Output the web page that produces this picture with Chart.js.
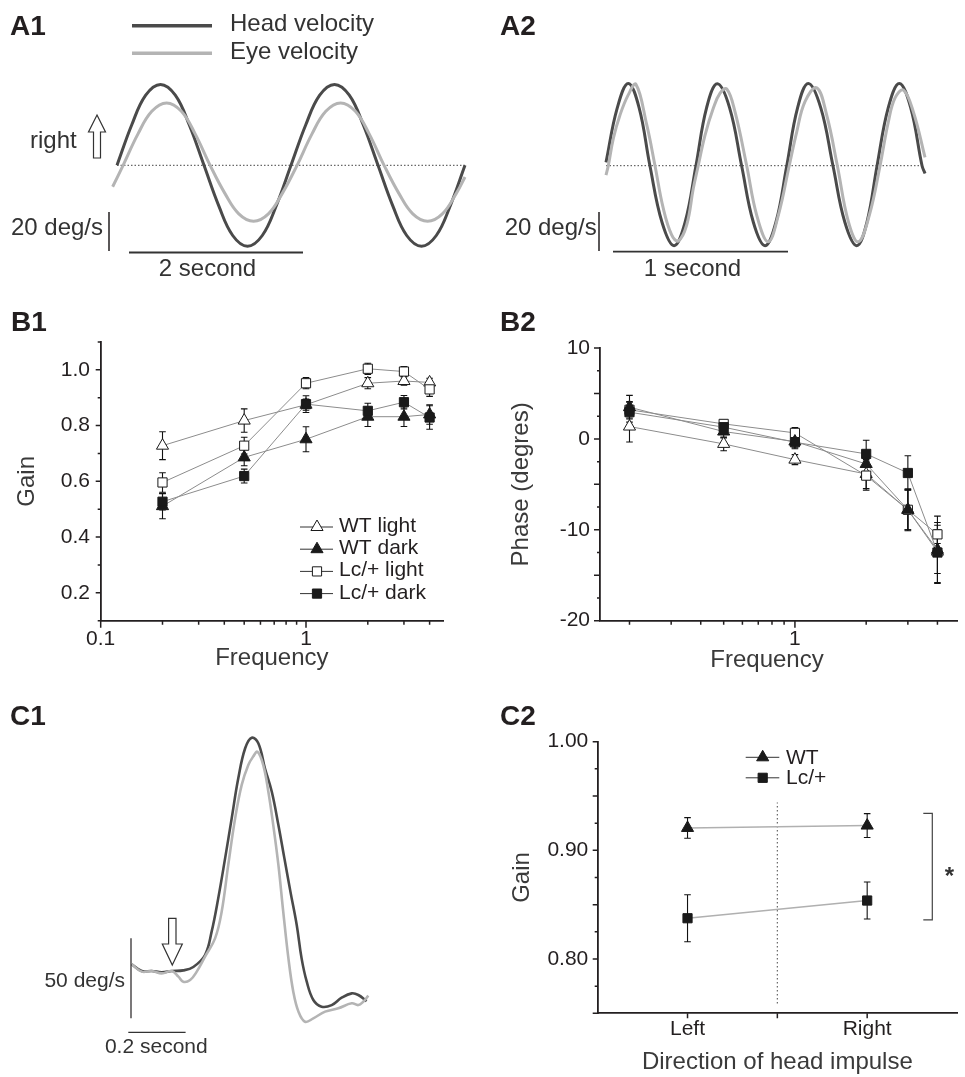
<!DOCTYPE html>
<html lang="en">
<head>
<meta charset="utf-8">
<title>VOR responses</title>
<script src="https://cdn.jsdelivr.net/npm/chart.js@4.4.1/dist/chart.umd.min.js"></script>
<style>
  html, body { margin: 0; padding: 0; background: #fff; }
  #figure { position: relative; width: 965px; height: 1077px; overflow: hidden; }
  #figure canvas { position: absolute; }
</style>
</head>
<body>
<div id="figure">
  <canvas id="panelA1"></canvas>
  <canvas id="panelA2"></canvas>
  <canvas id="panelB1"></canvas>
  <canvas id="panelB2"></canvas>
  <canvas id="panelC1"></canvas>
  <canvas id="panelC2"></canvas>
</div>
<script>
/* ==========================================
   VOR figure - velocity traces, gain/phase, head impulse
   ========================================== */

// ===== A1: 0.5 Hz rotation, velocity (deg/s) vs time (s) =====
const a1HeadTime = [0, 0.17, 0.33, 0.5, 0.67, 0.83, 1, 1.17, 1.33, 1.5, 1.67, 1.83, 2, 2.17, 2.33, 2.5, 2.67, 2.83, 3, 3.17, 3.33, 3.5, 3.67, 3.83, 4];
const a1HeadVel = [0, 20.8, 36, 41.5, 36, 20.8, 0, -20.8, -36, -41.5, -36, -20.8, 0, 20.8, 36, 41.5, 36, 20.8, 0, -20.8, -36, -41.5, -36, -20.8, 0];
const a1EyeTime = [-0.05, 0.07, 0.24, 0.4, 0.57, 0.74, 0.9, 1.07, 1.24, 1.4, 1.57, 1.74, 1.9, 2.07, 2.24, 2.4, 2.57, 2.74, 2.9, 3.07, 3.24, 3.4, 3.57, 3.74, 3.9, 4];
const a1EyeVel = [-11, 0, 16, 27.7, 32, 27.7, 16, 0, -14.4, -24.9, -28.7, -24.9, -14.4, 0, 16, 27.7, 32, 27.7, 16, 0, -14.4, -24.9, -28.7, -24.9, -14.4, -6];
const a1ZeroSpan = [0, 4];

// ===== A2: 2 Hz rotation =====
const a2HeadTime = [0, 0.064, 0.127, 0.189, 0.251, 0.32, 0.389, 0.452, 0.514, 0.575, 0.636, 0.706, 0.775, 0.842, 0.909, 0.971, 1.033, 1.095, 1.156, 1.227, 1.297, 1.365, 1.433, 1.491, 1.549, 1.613, 1.676, 1.741, 1.806, 1.823];
const a2HeadVel = [1.7, 29.5, 42.2, 29.8, 0, -29, -41, -29, 0, 29.8, 42, 29.8, 0, -29, -41, -29, 0, 29.8, 42.2, 29.8, 0, -29, -41, -29, 0, 29.8, 42.2, 29.8, 0, -4];
const a2EyeTime = [0, 0.013, 0.042, 0.08, 0.127, 0.171, 0.233, 0.28, 0.327, 0.375, 0.413, 0.461, 0.499, 0.527, 0.566, 0.613, 0.651, 0.69, 0.737, 0.804, 0.861, 0.927, 0.985, 1.047, 1.09, 1.137, 1.204, 1.261, 1.322, 1.385, 1.442, 1.505, 1.566, 1.613, 1.651, 1.699, 1.756, 1.823];
const a2EyeVel = [-4.8, 0, 14, 26, 36.3, 41.7, 20.9, 0, -21.8, -35.5, -38.6, -30.4, -11.6, 0, 15.7, 29.4, 37.1, 39.3, 27.7, 0, -25.3, -39, -25.3, 0, 17.4, 32.8, 40, 26, 0, -28.7, -39, -25.3, 0, 22.3, 34.6, 38.8, 27.7, 4.3];
const a2ZeroSpan = [0, 1.81];

// ===== B: frequency response (Hz) =====
const frequencies = [0.2, 0.5, 1, 2, 3, 4];
const gainWtLight = [0.728, 0.818, 0.875, 0.952, 0.96, 0.955];
const gainWtLightSem = [0.05, 0.042, 0.02, 0.02, 0.015, 0.015];
const gainWtDark = [0.511, 0.686, 0.751, 0.832, 0.832, 0.84];
const gainWtDarkSem = [0.045, 0.03, 0.045, 0.035, 0.035, 0.035];
const gainLcLight = [0.596, 0.728, 0.952, 1.004, 0.994, 0.93];
const gainLcLightSem = [0.035, 0.03, 0.02, 0.02, 0.018, 0.025];
const gainLcDark = [0.527, 0.619, 0.877, 0.853, 0.884, 0.829];
const gainLcDarkSem = [0.03, 0.025, 0.03, 0.027, 0.024, 0.042];

const phaseWtLight = [1.36, -0.55, -2.28, -3.86, -7.8, -12.4];
const phaseWtLightSem = [1.7, 0.75, 0.55, 1.6, 2.2, 2.4];
const phaseWtDark = [3.49, 0.81, -0.29, -2.76, -7.8, -12.2];
const phaseWtDarkSem = [1.3, 0.7, 0.8, 1.0, 2.3, 3.7];
const phaseLcLight = [3.2, 1.65, 0.66, -4.04, -7.8, -10.5];
const phaseLcLightSem = [0.9, 0.4, 0.6, 1.6, 2.2, 1.0];
const phaseLcDark = [2.94, 1.29, -0.37, -1.65, -3.75, -12.5];
const phaseLcDarkSem = [1.1, 0.6, 0.6, 1.5, 1.9, 3.3];

const freqTicks = [0.1, 0.2, 0.3, 0.4, 0.5, 0.6, 0.7, 0.8, 0.9, 1, 2, 3, 4];
const freqTickLabels = [0.1, 1];
const gainTicks = [0.1, 0.2, 0.3, 0.4, 0.5, 0.6, 0.7, 0.8, 0.9, 1.0, 1.1];
const gainTickLabels = [0.2, 0.4, 0.6, 0.8, 1.0];
const phaseTicks = [-20, -17.5, -15, -12.5, -10, -7.5, -5, -2.5, 0, 2.5, 5, 7.5, 10];
const phaseTickLabels = [-20, -10, 0, 10];

// ===== C1: single head impulse, velocity (deg/s) vs time (s) =====
const c1HeadTime = [0, 0.035, 0.07, 0.105, 0.14, 0.18, 0.215, 0.256, 0.279, 0.302, 0.326, 0.349, 0.372, 0.396, 0.419, 0.442, 0.465, 0.489, 0.512, 0.533, 0.554, 0.576, 0.593, 0.611, 0.634, 0.663, 0.698, 0.733, 0.768, 0.791, 0.82];
const c1HeadVel = [4.2, 0, 0, -0.8, 0, 0.4, 2.5, 10, 24.6, 45.4, 70.4, 95.4, 120.4, 139.2, 145.8, 142.3, 126.7, 112, 91.3, 70.4, 49.6, 28.8, 7.9, -6.7, -18.1, -22.3, -21.3, -16.7, -14, -15, -18.8];
const c1EyeTime = [0, 0.035, 0.07, 0.105, 0.14, 0.163, 0.18, 0.204, 0.227, 0.256, 0.291, 0.314, 0.337, 0.361, 0.384, 0.407, 0.424, 0.439, 0.459, 0.477, 0.494, 0.512, 0.529, 0.547, 0.564, 0.582, 0.605, 0.634, 0.675, 0.721, 0.768, 0.791, 0.808, 0.826];
const c1EyeVel = [4.2, -0.4, 0, -1.5, 0, -3.5, -6.7, -5.6, -0.4, 9, 20.4, 37, 66.3, 95.4, 116.3, 128.8, 134, 137, 128.8, 112, 91.3, 66.3, 37, 7.9, -12.9, -25.4, -31.7, -29.6, -25.4, -23.3, -20.2, -21.3, -19.2, -15.4];

// ===== C2: head impulse gain by direction =====
const directions = ['Left', 'Right'];
const impulseGainWt = [0.9206, 0.9228];
const impulseSemWt = [0.0095, 0.011];
const impulseGainLc = [0.8375, 0.8538];
const impulseSemLc = [0.0216, 0.017];
const dividerSpan = [0.759, 0.944];
const significanceSpan = [0.836, 0.934];
const impulseTicks = [0.75, 0.775, 0.8, 0.825, 0.85, 0.875, 0.9, 0.925, 0.95, 0.975, 1.0];
const impulseTickLabels = [0.8, 0.9, 1.0];
const directionTicks = [1, 1.5, 2];

// ===== STYLE =====
const FONT = '"Liberation Sans", Arial, Helvetica, sans-serif';
const INK = '#231f20';
const TITLE_INK = '#3a3a3a';
const HEAD_COLOR = '#4a4a4a';
const EYE_COLOR = '#b4b4b4';
const LINK_COLOR = '#8c8c8c';
const SOLID = '#1a1a1a';
const LABEL_SIZE = 24;   // axis titles and annotations
const TICK_SIZE = 21;    // tick labels and legends

Chart.defaults.font.family = FONT;
Chart.defaults.color = INK;
Chart.defaults.animation = false;
Chart.defaults.events = [];
Chart.defaults.plugins.legend.display = false;
Chart.defaults.plugins.tooltip.enabled = false;

// ===== HELPERS =====
const pts = (xs, ys) => xs.map((v, i) => ({ x: v, y: ys[i] }));
const near = (list, v) => list.some(t => Math.abs(t - v) < 1e-6);

function mount(id, box) {
    const c = document.getElementById(id);
    c.style.left = box[0] + 'px';
    c.style.top = box[1] + 'px';
    c.width = box[2] - box[0];
    c.height = box[3] - box[1];
    return c;
}

// value range between two pixel edges, given the pixel of value 0 and pixels per unit
function linRange(p0, p1, zeroPx, ppu, flip) {
    return flip ? { min: (zeroPx - p1) / ppu, max: (zeroPx - p0) / ppu }
                : { min: (p0 - zeroPx) / ppu, max: (p1 - zeroPx) / ppu };
}
function logRange(p0, p1, onePx, pxPerDecade) {
    return { min: Math.pow(10, (p0 - onePx) / pxPerDecade), max: Math.pow(10, (p1 - onePx) / pxPerDecade) };
}

function text(ctx, s, x, y, size, o = {}) {
    ctx.save();
    ctx.font = (o.bold ? 'bold ' : '') + size + 'px ' + FONT;
    ctx.fillStyle = o.color || INK;
    ctx.textAlign = o.align || 'left';
    ctx.textBaseline = 'alphabetic';
    ctx.fillText(s, x, y);
    ctx.restore();
}

function line(ctx, x0, y0, x1, y1, color, width, dash) {
    ctx.save();
    ctx.strokeStyle = color;
    ctx.lineWidth = width;
    ctx.setLineDash(dash || []);
    ctx.beginPath();
    ctx.moveTo(x0, y0);
    ctx.lineTo(x1, y1);
    ctx.stroke();
    ctx.restore();
}

function hollowArrow(ctx, cx, tipY, tailY, headLen, headHalf, shaftHalf) {
    const d = Math.sign(tailY - tipY);
    const hb = tipY + d * headLen;
    ctx.save();
    ctx.beginPath();
    ctx.moveTo(cx, tipY);
    ctx.lineTo(cx + headHalf, hb);
    ctx.lineTo(cx + shaftHalf, hb);
    ctx.lineTo(cx + shaftHalf, tailY);
    ctx.lineTo(cx - shaftHalf, tailY);
    ctx.lineTo(cx - shaftHalf, hb);
    ctx.lineTo(cx - headHalf, hb);
    ctx.closePath();
    ctx.fillStyle = '#fff';
    ctx.fill();
    ctx.strokeStyle = '#333';
    ctx.lineWidth = 1.2;
    ctx.stroke();
    ctx.restore();
}

// draws in page coordinates, with the chart's scales converted to page pixels
function decor(box, draw) {
    return {
        id: 'decor',
        afterDraw(chart) {
            const { ctx, scales: { x, y } } = chart;
            const s = {
                X: v => x.getPixelForValue(v) + box[0],
                Y: v => y.getPixelForValue(v) + box[1],
                VX: p => x.getValueForPixel(p - box[0]),
                VY: p => y.getValueForPixel(p - box[1]),
                chart
            };
            ctx.save();
            ctx.translate(-box[0], -box[1]);
            draw(ctx, s);
            ctx.restore();
        }
    };
}

// calibration bars: length comes from the scale
function vBar(ctx, s, x, yBottom, amount, width) {
    line(ctx, x, yBottom, x, s.Y(s.VY(yBottom) + amount), INK, width);
}
function hBar(ctx, s, xLeft, y, amount, width) {
    line(ctx, xLeft, y, s.X(s.VX(xLeft) + amount), y, '#333', width);
}

// ===== TRACE PANELS =====
function trace(label, xs, ys, color, width) {
    return { label, data: pts(xs, ys), borderColor: color, borderWidth: width, tension: 0.4, pointRadius: 0, fill: false };
}
function zeroLine(span) {
    return { data: span.map(t => ({ x: t, y: 0 })), borderColor: '#444', borderWidth: 1, borderDash: [1.5, 2], pointRadius: 0 };
}

function traceChart(id, box, area, xZero, xPpu, yZero, yPpu, datasets, draw) {
    return new Chart(mount(id, box), {
        type: 'line',
        data: { datasets },
        options: {
            responsive: false,
            layout: { padding: { left: area[0] - box[0], top: area[1] - box[1], right: box[2] - area[2], bottom: box[3] - area[3] } },
            scales: {
                x: { type: 'linear', display: false, bounds: 'data', ...linRange(area[0], area[2], xZero, xPpu, false) },
                y: { type: 'linear', display: false, bounds: 'data', ...linRange(area[1], area[3], yZero, yPpu, true) }
            }
        },
        plugins: [decor(box, draw)]
    });
}

function traceLegend(ctx, s) {
    const rows = [25.7, 53.3];
    s.chart.data.datasets.filter(d => d.label).reverse().forEach((d, i) => {
        line(ctx, 132, rows[i], 212, rows[i], d.borderColor, 3.5);
        text(ctx, d.label, 230, rows[i] + 5.3, LABEL_SIZE, { color: '#333' });
    });
}

// A1
const A1_BOX = [0, 0, 482, 290];
traceChart('panelA1', A1_BOX, [106, 60, 472, 272], 117, 87, 165.3, 1.95, [
    trace('Eye velocity', a1EyeTime, a1EyeVel, EYE_COLOR, 3),
    trace('Head velocity', a1HeadTime, a1HeadVel, HEAD_COLOR, 3),
    zeroLine(a1ZeroSpan)
], (ctx, s) => {
    text(ctx, 'A1', 10, 35, 28, { bold: true });
    traceLegend(ctx, s);
    text(ctx, 'right', 30, 147.7, LABEL_SIZE, { color: '#333' });
    hollowArrow(ctx, 97, 115, 158, 17, 8.5, 3.5);
    text(ctx, '20 deg/s', 103, 235, LABEL_SIZE, { align: 'right', color: '#333' });
    vBar(ctx, s, 109, 251, 20, 1.5);
    hBar(ctx, s, 129, 252.5, 2, 1.8);
    text(ctx, '2 second', 207.5, 276, LABEL_SIZE, { align: 'center', color: '#333' });
});

// A2
const A2_BOX = [482, 0, 965, 290];
traceChart('panelA2', A2_BOX, [596, 60, 935, 272], 606, 175, 165.7, 1.95, [
    trace('Eye velocity', a2EyeTime, a2EyeVel, EYE_COLOR, 3),
    trace('Head velocity', a2HeadTime, a2HeadVel, HEAD_COLOR, 3),
    zeroLine(a2ZeroSpan)
], (ctx, s) => {
    text(ctx, 'A2', 500, 35, 28, { bold: true });
    text(ctx, '20 deg/s', 596.7, 235, LABEL_SIZE, { align: 'right', color: '#333' });
    vBar(ctx, s, 599, 251, 20, 1.5);
    hBar(ctx, s, 613, 251.7, 1, 1.8);
    text(ctx, '1 second', 692.5, 276, LABEL_SIZE, { align: 'center', color: '#333' });
});

// C1
const C1_BOX = [0, 690, 482, 1077];
traceChart('panelC1', C1_BOX, [122, 725, 385, 1045], 131.7, 286.5, 971, 1.6, [
    trace('Eye velocity', c1EyeTime, c1EyeVel, EYE_COLOR, 2.6),
    trace('Head velocity', c1HeadTime, c1HeadVel, HEAD_COLOR, 2.6)
], (ctx, s) => {
    text(ctx, 'C1', 10, 725, 28, { bold: true });
    text(ctx, '50 deg/s', 125, 986.7, TICK_SIZE, { align: 'right', color: '#333' });
    vBar(ctx, s, 131, 1018.3, 50, 1.2);
    hBar(ctx, s, 128.3, 1032.3, 0.2, 1.2);
    text(ctx, '0.2 second', 156.3, 1053.3, TICK_SIZE, { align: 'center', color: '#333' });
    hollowArrow(ctx, 172.3, 965, 918.3, 21, 10, 3.7);
});

// ===== STATISTICS PANELS =====
const errorBars = {
    id: 'errorBars',
    beforeDatasetsDraw(chart) {
        const { ctx, scales: { x, y } } = chart;
        ctx.save();
        ctx.strokeStyle = '#111';
        ctx.lineWidth = 1.1;
        chart.data.datasets.forEach(ds => {
            if (!ds.sem) return;
            ds.data.forEach((p, i) => {
                const px = x.getPixelForValue(p.x);
                const top = y.getPixelForValue(p.y + ds.sem[i]);
                const bot = y.getPixelForValue(p.y - ds.sem[i]);
                ctx.beginPath();
                ctx.moveTo(px, top); ctx.lineTo(px, bot);
                ctx.moveTo(px - 3.3, top); ctx.lineTo(px + 3.3, top);
                ctx.moveTo(px - 3.3, bot); ctx.lineTo(px + 3.3, bot);
                ctx.stroke();
            });
        });
        ctx.restore();
    }
};

function tickMarks(lenX, lenY) {
    return {
        id: 'tickMarks',
        afterDraw(chart) {
            const { ctx, chartArea: a, scales: { x, y } } = chart;
            ctx.save();
            ctx.strokeStyle = INK;
            ctx.lineWidth = 1.5;
            ctx.beginPath();
            x.ticks.forEach(t => {
                const p = x.getPixelForValue(t.value);
                ctx.moveTo(p, a.bottom); ctx.lineTo(p, a.bottom + lenX(t.value));
            });
            y.ticks.forEach(t => {
                const p = y.getPixelForValue(t.value);
                ctx.moveTo(a.left, p); ctx.lineTo(a.left - lenY(t.value), p);
            });
            ctx.stroke();
            ctx.restore();
        }
    };
}

function markerLegend(box, cfg) {
    return {
        id: 'markerLegend',
        afterDraw(chart) {
            const ctx = chart.ctx;
            ctx.save();
            ctx.translate(-box[0], -box[1]);
            chart.data.datasets.filter(d => d.sem).forEach((d, i) => {
                const y = cfg.y0 + i * cfg.dy;
                line(ctx, cfg.x0, y, cfg.x1, y, '#333', 1);
                ctx.save();
                ctx.fillStyle = d.pointBackgroundColor;
                ctx.strokeStyle = d.pointBorderColor;
                ctx.lineWidth = d.pointBorderWidth;
                Chart.helpers.drawPoint(ctx, { pointStyle: d.pointStyle, radius: d.pointRadius, borderWidth: d.pointBorderWidth, rotation: 0 }, cfg.xm, y);
                ctx.restore();
                text(ctx, d.label, cfg.xt, y + cfg.textDy, TICK_SIZE);
            });
            ctx.restore();
        }
    };
}

function marker(label, xs, ys, sem, shape, fill, order, link) {
    return {
        label, sem, order,
        data: pts(xs, ys),
        borderColor: link.color, borderWidth: link.width, tension: 0,
        pointStyle: shape, pointRadius: shape === 'triangle' ? 7 : 6.5,
        pointBackgroundColor: fill, pointBorderColor: SOLID, pointBorderWidth: 1,
        clip: false
    };
}

function axis(type, range, tickValues, labelOf, pad, title) {
    return {
        type, bounds: 'data', min: range.min, max: range.max,
        border: { display: true, color: INK, width: 1.8 },
        grid: { display: false, drawTicks: false },
        afterBuildTicks: s => { s.ticks = tickValues.map(v => ({ value: v })); },
        ticks: { autoSkip: false, maxRotation: 0, minRotation: 0, padding: pad, color: INK, font: { size: TICK_SIZE }, callback: v => labelOf(v) },
        title: title ? { display: true, text: title.text, color: TITLE_INK, font: { size: LABEL_SIZE }, padding: title.padding } : { display: false }
    };
}

function statChart(id, box, area, xAxis, yAxis, datasets, plugins) {
    xAxis.afterFit = s => { s.height = box[3] - area[3]; };
    yAxis.afterFit = s => { s.width = area[0] - box[0]; };
    return new Chart(mount(id, box), {
        type: 'line',
        data: { datasets },
        options: {
            responsive: false,
            layout: { padding: { left: 0, bottom: 0, top: area[1] - box[1], right: box[2] - area[2] } },
            scales: { x: xAxis, y: yAxis }
        },
        plugins
    });
}

const thinLink = { color: LINK_COLOR, width: 1 };
const freqLabel = v => near(freqTickLabels, v) ? String(v) : '';
const freqTickLen = v => near([0.1, 1], v) ? 7 : 4;

// B1: gain
const B1_BOX = [0, 300, 482, 690];
const B1_AREA = [100.7, 342, 443, 620.7];
statChart('panelB1', B1_BOX, B1_AREA,
    axis('logarithmic', logRange(B1_AREA[0], B1_AREA[2], 306, 205.3), freqTicks, freqLabel, 6, { text: 'Frequency', padding: { top: 4, bottom: 17.5 } }),
    axis('linear', { min: 0.1, max: 1.1 }, gainTicks, v => near(gainTickLabels, v) ? v.toFixed(1) : '', 10.7, { text: 'Gain', padding: { top: 12.5, bottom: 4 } }),
    [
        marker('WT light', frequencies, gainWtLight, gainWtLightSem, 'triangle', '#fff', 4, thinLink),
        marker('WT dark', frequencies, gainWtDark, gainWtDarkSem, 'triangle', SOLID, 2, thinLink),
        marker('Lc/+ light', frequencies, gainLcLight, gainLcLightSem, 'rect', '#fff', 3, thinLink),
        marker('Lc/+ dark', frequencies, gainLcDark, gainLcDarkSem, 'rect', SOLID, 1, thinLink)
    ],
    [errorBars,
     tickMarks(freqTickLen, v => near(gainTickLabels, v) ? 5 : 3),
     markerLegend(B1_BOX, { x0: 300, x1: 333, xm: 317, xt: 339, y0: 527, dy: 22.2, textDy: 5 }),
     decor(B1_BOX, ctx => text(ctx, 'B1', 11, 330.7, 28, { bold: true }))]
);

// B2: phase
const B2_BOX = [482, 300, 965, 690];
const B2_AREA = [600, 348, 965, 620.7];
statChart('panelB2', B2_BOX, B2_AREA,
    axis('logarithmic', logRange(B2_AREA[0], B2_AREA[2], 799.3, 242), freqTicks.filter(v => v > 0.1), freqLabel, 6, null),
    axis('linear', { min: -20, max: 10 }, phaseTicks, v => near(phaseTickLabels, v) ? String(v) : '', 10, { text: 'Phase (degres)', padding: { top: 24.5, bottom: 4 } }),
    [
        marker('WT light', frequencies, phaseWtLight, phaseWtLightSem, 'triangle', '#fff', 4, thinLink),
        marker('WT dark', frequencies, phaseWtDark, phaseWtDarkSem, 'triangle', SOLID, 2, thinLink),
        marker('Lc/+ light', frequencies, phaseLcLight, phaseLcLightSem, 'rect', '#fff', 3, thinLink),
        marker('Lc/+ dark', frequencies, phaseLcDark, phaseLcDarkSem, 'rect', SOLID, 1, thinLink)
    ],
    [errorBars,
     tickMarks(freqTickLen, v => Math.abs(v % 5) < 1e-6 ? 6 : 3),
     decor(B2_BOX, ctx => {
         text(ctx, 'B2', 500, 330.7, 28, { bold: true });
         text(ctx, 'Frequency', 767, 666.7, LABEL_SIZE, { align: 'center', color: TITLE_INK });
     })]
);

// C2: head impulse gain
const C2_BOX = [482, 690, 965, 1077];
const C2_AREA = [597.7, 741.7, 965, 1013.3];
const impulseLink = { color: '#b0b0b0', width: 1.5 };
const directionPos = directions.map((d, i) => i + 1);
statChart('panelC2', C2_BOX, C2_AREA,
    axis('linear', { min: 0.5, max: 2.5 }, directionTicks, v => Number.isInteger(v) ? directions[v - 1] : '', 3.5, { text: 'Direction of head impulse', padding: { top: 4, bottom: 0.5 } }),
    axis('linear', { min: 0.75, max: 1.0 }, impulseTicks, v => near(impulseTickLabels, v) ? v.toFixed(2) : '', 9.4, { text: 'Gain', padding: { top: 26.2, bottom: 4 } }),
    [
        marker('WT', directionPos, impulseGainWt, impulseSemWt, 'triangle', SOLID, 1, impulseLink),
        marker('Lc/+', directionPos, impulseGainLc, impulseSemLc, 'rect', SOLID, 2, impulseLink),
        { data: dividerSpan.map(v => ({ x: 1.5, y: v })), borderColor: '#666', borderWidth: 1.2, borderDash: [1.5, 2.5], pointRadius: 0, order: 3 }
    ],
    [errorBars,
     tickMarks(() => 5, v => Math.abs(Math.round(v / 0.05) * 0.05 - v) < 1e-6 ? 5 : 3),
     markerLegend(C2_BOX, { x0: 745.7, x1: 779.3, xm: 762.7, xt: 786, y0: 757.3, dy: 20.5, textDy: 6.5 }),
     decor(C2_BOX, (ctx, s) => {
         text(ctx, 'C2', 500, 725, 28, { bold: true });
         const yHi = s.Y(significanceSpan[1]);
         const yLo = s.Y(significanceSpan[0]);
         ctx.save();
         ctx.strokeStyle = '#444';
         ctx.lineWidth = 1.2;
         ctx.beginPath();
         ctx.moveTo(923.3, yHi); ctx.lineTo(932.3, yHi); ctx.lineTo(932.3, yLo); ctx.lineTo(923.3, yLo);
         ctx.stroke();
         ctx.restore();
         text(ctx, '*', 949.3, 884, 24, { bold: true, align: 'center', color: '#333' });
     })]
);
</script>
</body>
</html>
